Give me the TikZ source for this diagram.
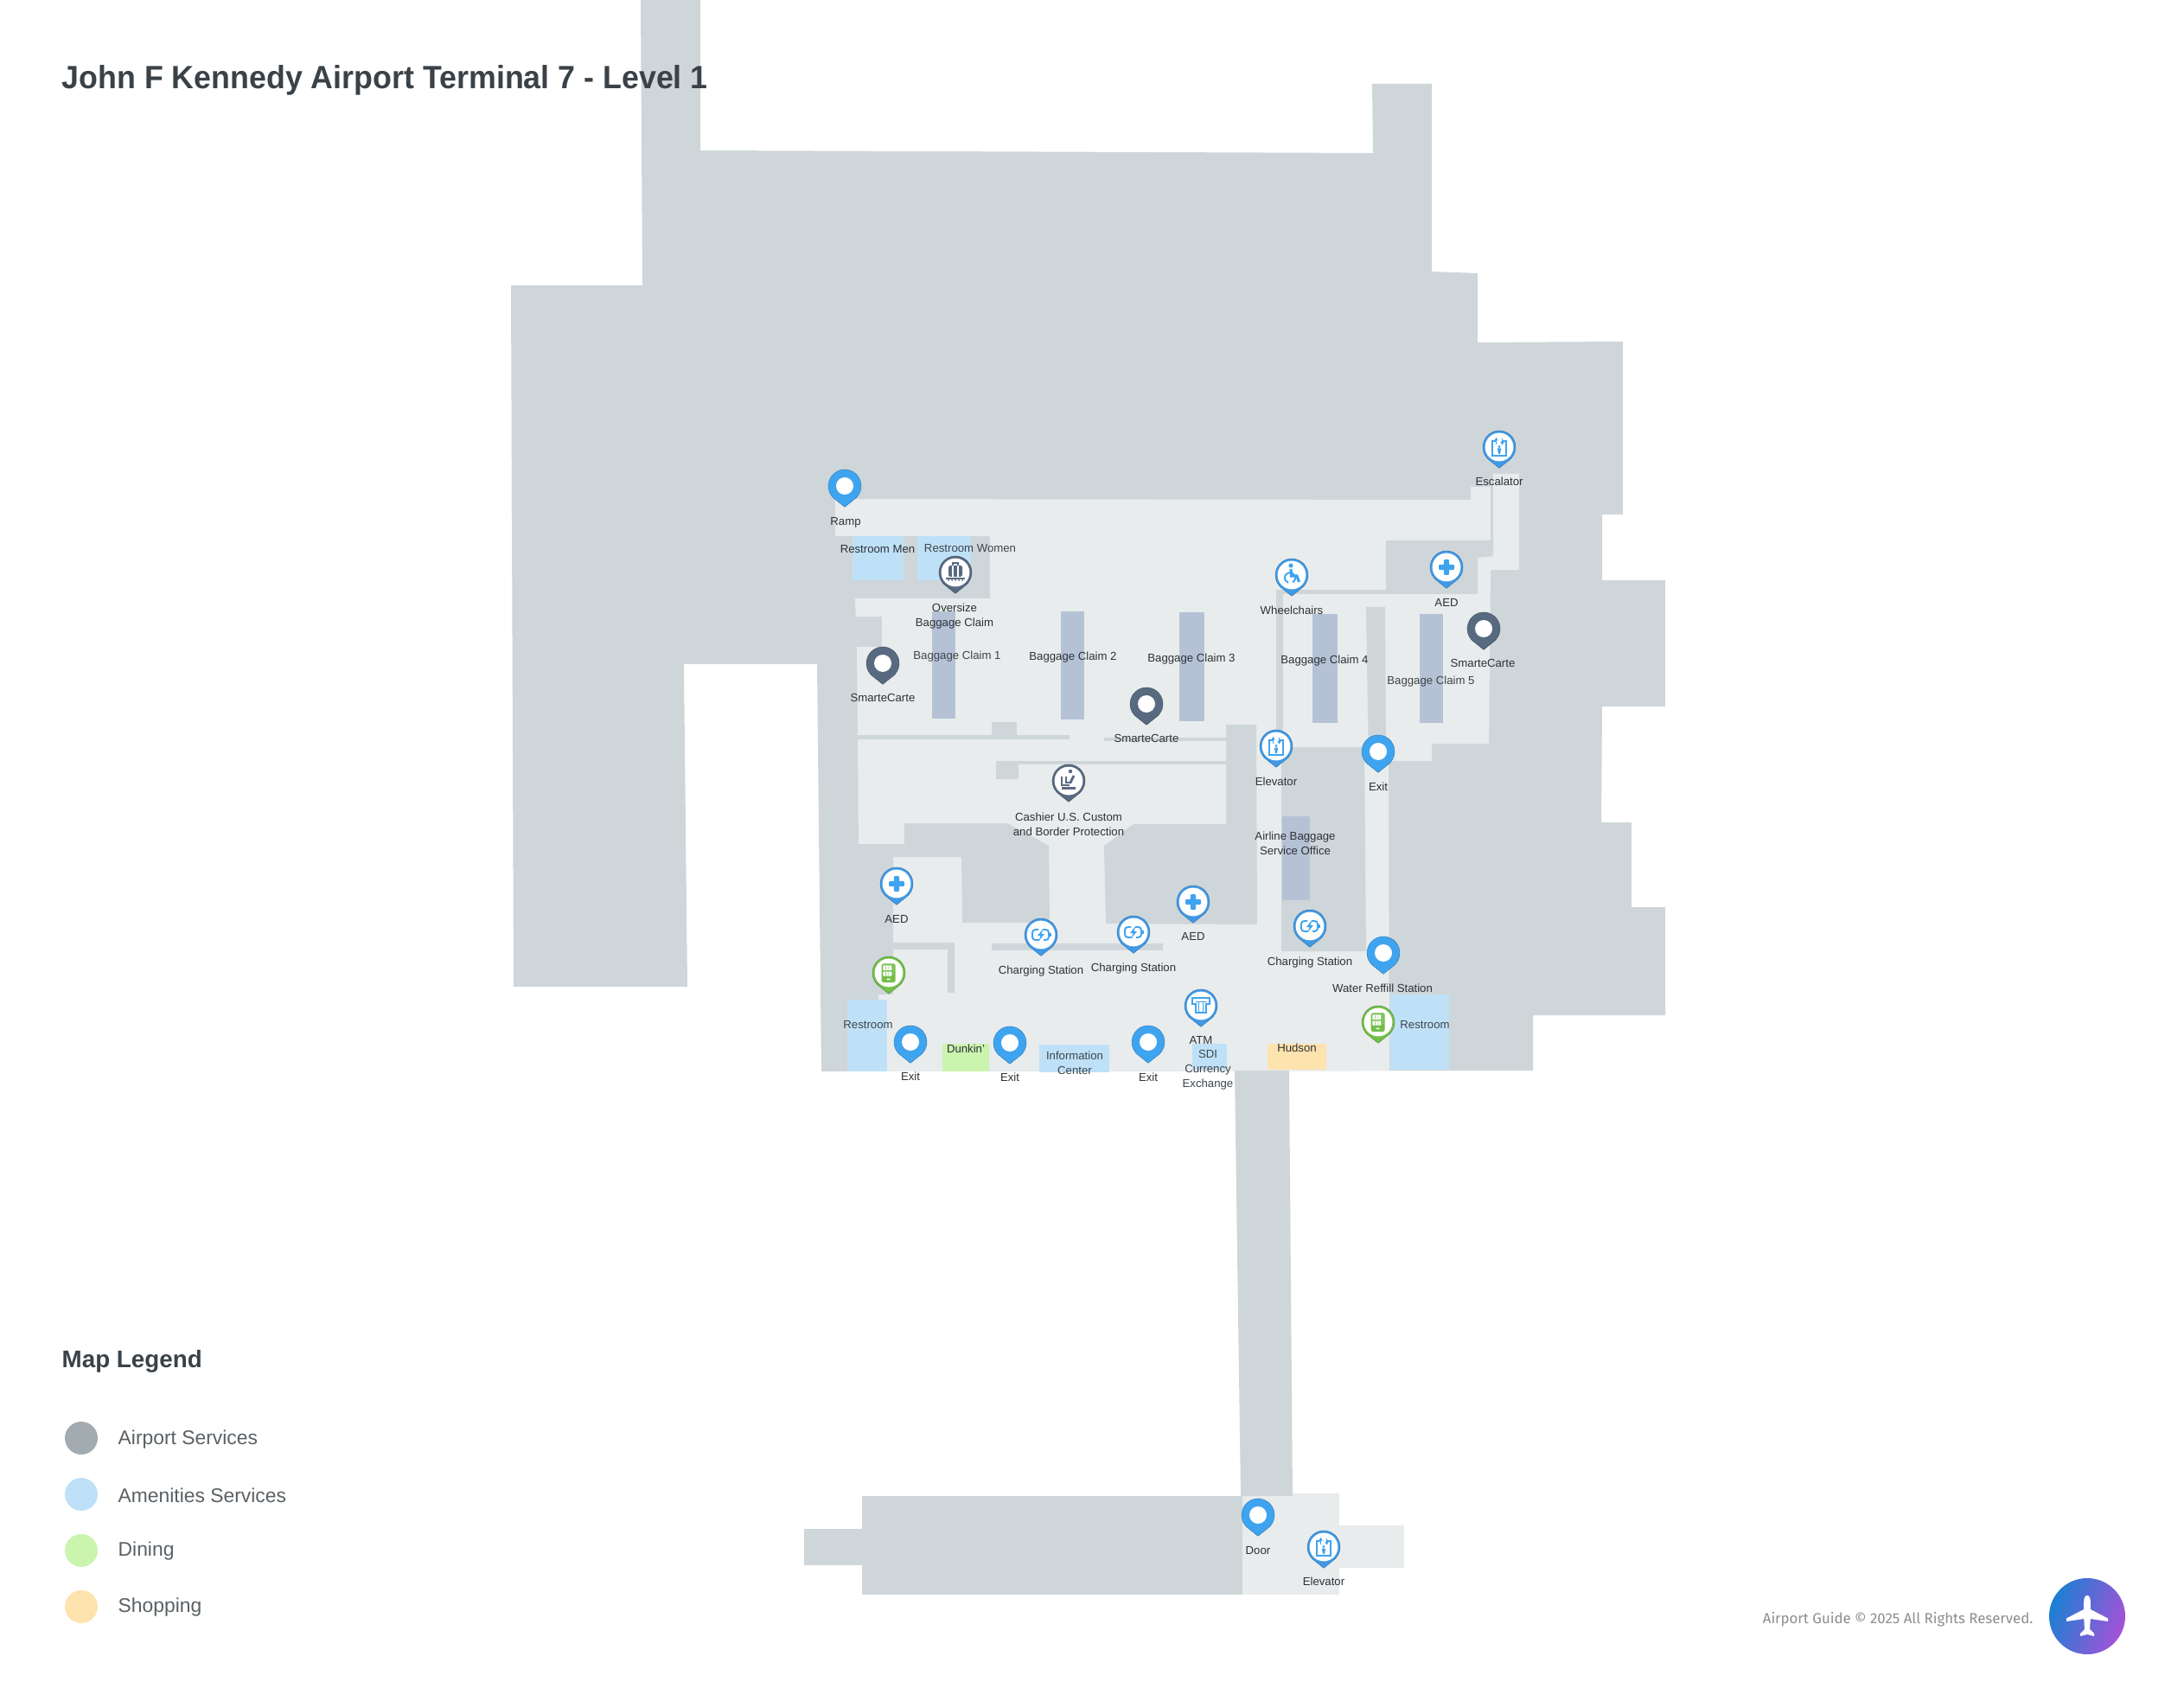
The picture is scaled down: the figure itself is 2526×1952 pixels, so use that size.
\documentclass[tikz,border=0pt]{standalone}
\usepackage{fontspec}
\usepackage{xcolor}
\usepackage{tikz}
\usetikzlibrary{shadings}
\setmainfont{Liberation Sans}
\newfontfamily\footfont{Fira Sans}
\newfontfamily\headfont[FakeStretch=0.96]{Liberation Sans}

\definecolor{walldark}{HTML}{CED6D9}
\definecolor{floorlight}{HTML}{E8ECED}
\definecolor{beltblue}{HTML}{B5C2D6}
\definecolor{servicegray}{HTML}{A2ABAF}
\definecolor{amenblue}{HTML}{BFE1F8}
\definecolor{dineGreen}{HTML}{CBF4AF}
\definecolor{shopYellow}{HTML}{FDE3AE}
\definecolor{pinblue}{HTML}{3FA4F0}
\definecolor{ringblue}{HTML}{4199E6}
\definecolor{pinslate}{HTML}{586A80}
\definecolor{pingreen}{HTML}{72BE4A}
\definecolor{labelink}{HTML}{2E3236}
\definecolor{softink}{HTML}{3F454A}
\definecolor{legendink}{HTML}{5A6064}
\definecolor{headink}{HTML}{3A4248}
\definecolor{badgeblue}{HTML}{1A80D2}
\definecolor{badgeviolet}{HTML}{A552D8}

\newcommand{\PinBody}[1]{\filldraw[fill=#1,draw=#1!75!black,line width=0.12pt] (0,-24.3) -- (-51.4:19) arc[start angle=-51.4,end angle=231.4,radius=19] -- cycle;}

% Icons, drawn round the pin centre with y pointing up
\newcommand{\IconCross}[1]{\fill[#1,rounded corners=0.4pt] (-9,-3.2) rectangle (9,3.2) (-3.2,-9) rectangle (3.2,9);}
\newcommand{\IconLift}[1]{
  \draw[#1,line width=0.4pt] (-3,7) -- (-8,7) -- (-8,-10) -- (8,-10) -- (8,7) -- (3,7);
  \draw[#1,line width=0.4pt] (-3.5,3) -- (-3.5,9) (3.5,10) -- (3.5,4);
  \fill[#1] (-5.8,7.5) -- (-3.5,11) -- (-1.2,7.5) -- cycle (1.2,6) -- (3.5,2.5) -- (5.8,6) -- cycle;
  \fill[#1] (0,0.5) circle[radius=1.6] (-2.2,-1.5) -- (2.2,-1.5) -- (1,-8) -- (-1,-8) -- cycle;}
\newcommand{\IconChair}[1]{
  \fill[#1] (-1,11) circle[radius=2.6];
  \draw[#1,line width=0.9pt] (-1,7) -- (-0.5,-1) -- (6,-1) -- (8.5,-8);
  \draw[#1,line width=0.55pt] (-5,2) arc[start angle=120,end angle=-60,radius=6];
  \draw[#1,line width=0.55pt] (-5,2) arc[start angle=120,end angle=250,radius=6];}
\newcommand{\IconBag}[1]{
  \fill[#1,rounded corners=0.5pt] (-8,-5) rectangle (8,8);
  \draw[#1,line width=0.35pt] (-3,8) -- (-3,11) -- (3,11) -- (3,8);
  \draw[white,line width=0.3pt] (-3,-5) -- (-3,8) (3,-5) -- (3,8);
  \draw[#1,line width=0.4pt] (-11,-7) -- (11,-7);
  \foreach \dotx in {-8,-4,0,4,8} {\fill[#1] (\dotx,-9) circle[radius=1];}}
\newcommand{\IconDesk}[1]{
  \fill[#1] (2,11) circle[radius=2.2];
  \draw[#1,line width=0.6pt] (-8,5) -- (-8,-5) -- (1,-5);
  \draw[#1,line width=0.8pt] (6,6) -- (1.5,-3);
  \draw[#1,line width=0.5pt] (-3,5) -- (-3,-2) -- (1,-2);
  \fill[#1] (-8,-7) rectangle (8,-10);}
\newcommand{\IconPower}[1]{
  \draw[#1,line width=0.55pt,rounded corners=1pt] (-3,6) -- (-10,6) -- (-10,-6) -- (-2,-6) (3,-6) -- (9,-6) -- (9,6) -- (2,6);
  \fill[#1] (10,-2) rectangle (11.5,2);
  \fill[#1] (2.5,7) -- (-4,-1) -- (-0.5,-1) -- (-2.5,-7) -- (4,1) -- (0.5,1) -- cycle;}
\newcommand{\IconAtm}[1]{
  \draw[#1,line width=0.55pt] (-10,2) -- (-10,9) -- (10,9) -- (10,2) -- (5.7,2) -- (5.7,-8) -- (-5.7,-8) -- (-5.7,2) -- cycle;
  \draw[#1,line width=0.45pt] (-6.5,4.5) -- (6.5,4.5) (-2.5,4.5) -- (-2.5,-8) (2.5,4.5) -- (2.5,-8);}
\newcommand{\IconVend}[1]{
  \fill[#1,rounded corners=0.5pt] (-8.3,-11) rectangle (7.7,10.7);
  \fill[white] (-6.7,3) rectangle (3.3,8.7) (-6.7,-3.7) rectangle (3.3,1.3) (-2.3,-8) rectangle (1.7,-6.7);
  \foreach \rowy in {5.8,-1.2} {\fill[#1] (-3.6,\rowy-1.8) rectangle (-3,\rowy+1.8) (-0.4,\rowy-1.8) rectangle (0.2,\rowy+1.8);}
  \foreach \dotz in {8,5,2,-1} {\fill[white] (5.4,\dotz) circle[radius=0.5];}}

\tikzset{
  pics/placepin/.style={code={\begin{scope}[y=0.01cm]\PinBody{#1}\fill[white] (0,0) circle[radius=10];\end{scope}}},
  pics/iconpin/.style n args={3}{code={\begin{scope}[y=0.01cm]\PinBody{#1}\fill[white] (0,0) circle[radius=16.4];#2{#3}\end{scope}}},
  wall/.style={fill=walldark},
  floorarea/.style={fill=floorlight},
  belt/.style={fill=beltblue},
  maplabel/.style={inner sep=0pt,text=labelink,text height=3.4pt,text depth=0.8pt},
  softlabel/.style={maplabel,text=softink},
  twolines/.style={inner sep=0pt,text=labelink,align=center},
  legendtext/.style={anchor=west,inner sep=0pt,text=legendink,font=\fontsize{6.5}{8}\selectfont},
  legenddot/.style={circle,inner sep=0pt,minimum size=0.38cm}
}

\begin{document}
\begin{tikzpicture}[x=0.01cm,y=-0.01cm,every node/.style={font=\fontsize{3.75}{4.8}\selectfont}]
\useasboundingbox (0,0) rectangle (2526,1952);

% Building outline
\fill[wall] (741,0) -- (810,0) -- (810,174) -- (1588,177) -- (1587,97) -- (1656,97) -- (1656,314) -- (1709,316) -- (1709,396) -- (1877,395) -- (1877,595) -- (1853,595) -- (1853,671) -- (1926,671) -- (1926,817) -- (1853,817) -- (1852,951) -- (1887,951) -- (1887,1049) -- (1926,1049) -- (1926,1174) -- (1773,1174) -- (1773,1238) -- (950,1239) -- (945,768) -- (791,768) -- (795,1141) -- (594,1141) -- (591,330) -- (743,330) -- cycle;

% Public floor
\fill[floorarea] (966,577) -- (1701,578) -- (1701,563) -- (1727,563) -- (1727,548) -- (1757,548) -- (1757,659) -- (1724,659) -- (1722,860) -- (1656,860) -- (1656,880) -- (1606,880) -- (1607,1238) -- (980,1239) -- (980,1156) -- (1016,1156) -- (1016,1150) -- (1033,1150) -- (1033,976) -- (993,976) -- (991,748) -- (989,692) -- (966,692) -- cycle;

% Walls and closed rooms on the floor
\fill[wall] (966,620) rectangle (1145,692);
\fill[wall] (989,713) rectangle (1020,748);
\fill[wall] (991,850) rectangle (1237,855);
\fill[wall] (1147,835) rectangle (1176,855);
\fill[wall] (1277,853) rectangle (1420,857);
\fill[wall] (1152,880) rectangle (1420,884);
\fill[wall] (1152,880) rectangle (1178,901);
\fill[wall] (1033,976) -- (1046,976) -- (1046,952) -- (1165,952) -- (1213,978) -- (1214,1067) -- (1113,1067) -- (1112,991) -- (1033,991) -- cycle;
\fill[wall] (1277,978) -- (1311,953) -- (1418,953) -- (1418,838) -- (1453,838) -- (1454,1069) -- (1279,1068) -- cycle;
\fill[wall] (1482,864) -- (1578,864) -- (1580,1100) -- (1482,1100) -- cycle;
\fill[wall] (1033,1090) rectangle (1104,1098);
\fill[wall] (1096,1090) rectangle (1104,1148);
\fill[wall] (1147,1091) rectangle (1345,1099);
\fill[wall] (1603,625) -- (1727,625) -- (1727,643) -- (1709,645) -- (1709,687) -- (1603,687) -- cycle;
\fill[wall] (1724,563) rectangle (1727,625);
\fill[wall] (1476,682) rectangle (1604,687);
\fill[wall] (1476,682) rectangle (1484,850);
\fill[wall] (1580,702) -- (1602,702) -- (1603,880) -- (1583,880) -- cycle;

% Baggage belts
\fill[belt] (1078,707) rectangle (1105,831);
\fill[belt] (1227,707) rectangle (1254,832);
\fill[belt] (1364,708) rectangle (1393,834);
\fill[belt] (1518,710) rectangle (1547,836);
\fill[belt] (1642,710) rectangle (1669,836);
\fill[belt] (1483,944) rectangle (1515,1041);

% Coloured units
\fill[amenblue] (986,620) rectangle (1045,671);
\fill[amenblue] (1061,620) rectangle (1123,671);
\fill[amenblue] (980,1156) rectangle (1026,1239);
\fill[amenblue] (1608,1150) rectangle (1676,1237);
\fill[amenblue] (1202,1208) rectangle (1283,1240);
\fill[amenblue] (1379,1207) rectangle (1419,1237);
\fill[dineGreen] (1090,1207) rectangle (1144,1239);
\fill[shopYellow] (1466,1207) rectangle (1534,1237);

% Corridor and south block
\fill[floorarea] (1437,1727) rectangle (1549,1844);
\fill[floorarea] (1549,1764) rectangle (1624,1813);
\fill[wall] (1428,1238) -- (1491,1238) -- (1495,1730) -- (1435,1730) -- cycle;
\fill[wall] (997,1730) rectangle (1437,1844);
\fill[wall] (930,1768) rectangle (997,1810);

% Pins
\pic at (977,562) {placepin=pinblue};
\pic at (1021,767) {placepin=pinslate};
\pic at (1326,814) {placepin=pinslate};
\pic at (1716,727) {placepin=pinslate};
\pic at (1594,869) {placepin=pinblue};
\pic at (1600,1102) {placepin=pinblue};
\pic at (1053,1205) {placepin=pinblue};
\pic at (1168,1206) {placepin=pinblue};
\pic at (1328,1205) {placepin=pinblue};
\pic at (1455,1752) {placepin=pinblue};
\pic at (1105,662) {iconpin={pinslate}{\IconBag}{pinslate}};
\pic at (1236,903) {iconpin={pinslate}{\IconDesk}{pinslate}};
\pic at (1734,517) {iconpin={ringblue}{\IconLift}{pinblue}};
\pic at (1476,863) {iconpin={ringblue}{\IconLift}{pinblue}};
\pic at (1531,1789) {iconpin={ringblue}{\IconLift}{pinblue}};
\pic at (1494,665) {iconpin={ringblue}{\IconChair}{pinblue}};
\pic at (1673,656) {iconpin={ringblue}{\IconCross}{pinblue}};
\pic at (1037,1022) {iconpin={ringblue}{\IconCross}{pinblue}};
\pic at (1380,1043) {iconpin={ringblue}{\IconCross}{pinblue}};
\pic at (1204,1081) {iconpin={ringblue}{\IconPower}{pinblue}};
\pic at (1311,1078) {iconpin={ringblue}{\IconPower}{pinblue}};
\pic at (1515,1071) {iconpin={ringblue}{\IconPower}{pinblue}};
\pic at (1389,1163) {iconpin={ringblue}{\IconAtm}{pinblue}};
\pic at (1028,1125) {iconpin={pingreen}{\IconVend}{pingreen}};
\pic at (1594,1182) {iconpin={pingreen}{\IconVend}{pingreen}};

% Map labels
\node[maplabel] (ramp) at (978,603) {Ramp};
\node[maplabel] (menroom) at (1015,635) {Restroom Men};
\node[softlabel] (womenroom) at (1122,634) {Restroom Women};
\node[twolines] (oversize) at (1104,713) {Oversize\\Baggage Claim};
\node[softlabel] (claimone) at (1107,758) {Baggage Claim 1};
\node[maplabel] (claimtwo) at (1241,759) {Baggage Claim 2};
\node[maplabel] (claimthree) at (1378,761) {Baggage Claim 3};
\node[maplabel] (claimfour) at (1532,763) {Baggage Claim 4};
\node[softlabel] (claimfive) at (1655,787) {Baggage Claim 5};
\node[maplabel] (carteone) at (1021,807) {SmarteCarte};
\node[maplabel] (cartetwo) at (1326,854) {SmarteCarte};
\node[maplabel] (cartethree) at (1715,767) {SmarteCarte};
\node[maplabel] (escalator) at (1734,557) {Escalator};
\node[maplabel] (wheelchairs) at (1494,706) {Wheelchairs};
\node[maplabel] (aedeast) at (1673,697) {AED};
\node[maplabel] (aedwest) at (1037,1063) {AED};
\node[maplabel] (aedmid) at (1380,1083) {AED};
\node[maplabel] (liftmain) at (1476,904) {Elevator};
\node[maplabel] (exitnorth) at (1594,910) {Exit};
\node[twolines] (airline) at (1498,975) {Airline Baggage\\Service Office};
\node[twolines] (cashier) at (1236,953) {Cashier U.S. Custom\\and Border Protection};
\node[maplabel] (chargeone) at (1204,1122) {Charging Station};
\node[maplabel] (chargetwo) at (1311,1119) {Charging Station};
\node[maplabel] (chargethree) at (1515,1112) {Charging Station};
\node[maplabel] (water) at (1599,1143) {Water Reffill Station};
\node[softlabel] (roomwest) at (1004,1185) {Restroom};
\node[softlabel] (roomeast) at (1648,1185) {Restroom};
\node[maplabel] (hudson) at (1500,1212) {Hudson};
\node[maplabel] (dunkin) at (1117,1213) {Dunkin'};
\node[maplabel] (exitone) at (1053,1245) {Exit};
\node[maplabel] (exittwo) at (1168,1246) {Exit};
\node[maplabel] (exitthree) at (1328,1246) {Exit};
\node[twolines,text=softink] (info) at (1243,1229) {\fontsize{3.75}{4.2}\selectfont Information\\Center};
\node[maplabel] (atm) at (1389,1203) {ATM};
\node[twolines,text=softink] (sdi) at (1397,1237) {\fontsize{3.75}{4.27}\selectfont SDI\\Currency\\Exchange};
\node[maplabel] (door) at (1455,1793) {Door};
\node[maplabel] (liftsouth) at (1531,1829) {Elevator};

% Title
\node[anchor=base west,inner sep=0pt,text=headink,font=\headfont\fontsize{10.6}{12}\bfseries\selectfont] (title) at (71,103) {John F Kennedy Airport Terminal 7 - Level 1};

% Legend
\node[anchor=base west,inner sep=0pt,text=headink,font=\fontsize{7.9}{10}\bfseries\selectfont] (legendhead) at (71,1581) {Map Legend};
\node[legenddot,fill=servicegray] (dotservice) at (94,1663) {};
\node[legenddot,fill=amenblue] (dotamenity) at (94,1728) {};
\node[legenddot,fill=dineGreen] (dotdining) at (94,1793) {};
\node[legenddot,fill=shopYellow] (dotshopping) at (94,1858) {};
\node[legendtext] (textservice) at (136,1665) {Airport Services};
\node[legendtext] (textamenity) at (136,1729) {Amenities Services};
\node[legendtext] (textdining) at (136,1794) {Dining};
\node[legendtext] (textshopping) at (136,1859) {Shopping};

% Footer
\node[anchor=east,inner sep=0pt,text=black!45,font=\fontsize{4.77}{6}\footfont\selectfont] (footer) at (2352,1873) {Airport Guide © 2025 All Rights Reserved.};
\node[circle,minimum size=0.88cm,inner sep=0pt,left color=badgeblue,right color=badgeviolet,shading angle=70] (badge) at (2414,1869) {};
\begin{scope}[shift={(badge.center)},y=0.01cm]
\fill[white] (0,24) .. controls (2.5,24) and (3.8,21) .. (3.8,17) -- (3.8,8) -- (24,-2.5) -- (24,-6) -- (3.8,-3) -- (3,-15) -- (8,-20) -- (8,-23) -- (0,-21) -- (-8,-23) -- (-8,-20) -- (-3,-15) -- (-3.8,-3) -- (-24,-6) -- (-24,-2.5) -- (-3.8,8) -- (-3.8,17) .. controls (-3.8,21) and (-2.5,24) .. (0,24) -- cycle;
\end{scope}
\end{tikzpicture}
\end{document}
